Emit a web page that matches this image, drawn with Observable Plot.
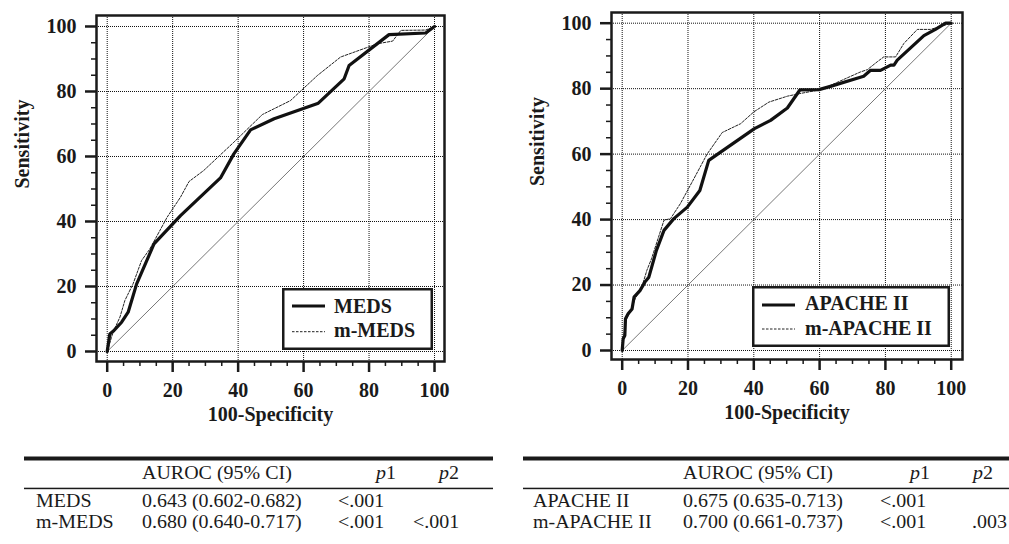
<!DOCTYPE html>
<html><head><meta charset="utf-8">
<script src="https://cdn.jsdelivr.net/npm/d3@7"></script>
<script src="https://cdn.jsdelivr.net/npm/@observablehq/plot@0.6"></script>
<style>
body{margin:0;background:#fff;}
#page{position:relative;width:1009px;height:544px;overflow:hidden;background:#fff;font-family:"Liberation Serif","Times New Roman",serif;color:#1a1a1a;}
.abs{position:absolute;}
</style></head><body><div id="page"></div>
<script>
// ---- data ----
const medsX  = [0, 0.8, 1.8, 4.4, 6.4, 9, 14.3, 22.4, 34.6, 38.7, 43.8, 51, 64.5, 72.4, 73.9, 86.1, 97.3, 100];
const medsY  = [0, 5.4, 6.2, 9, 12.1, 20.8, 33.1, 41.8, 53.4, 60.8, 68.2, 71.6, 76.4, 83.9, 88, 97.5, 98, 100];
const mmedsX = [0, 1.5, 2.5, 3.9, 5.4, 7.9, 10.5, 13, 18.3, 22.4, 25, 29.5, 38.7, 47.4, 56, 64.2, 71.3, 82.6, 87.2, 89.7, 97.3, 100];
const mmedsY = [0, 5, 7.5, 10.6, 15.7, 20.8, 28, 31.5, 41.3, 47.5, 52.3, 55.7, 64.4, 72.9, 77.2, 84.9, 90.6, 94.7, 95.5, 98.8, 98.9, 100];

const apacheX  = [0, 0.3, 0.8, 1, 1.8, 3, 3.6, 5.4, 6.9, 8.1, 10.4, 12.7, 15.7, 19.8, 23.6, 26.3, 29.9, 40.2, 45.1, 50.2, 54, 59.8, 63.3, 73.4, 75.5, 78.5, 81.6, 82.6, 83.6, 91.7, 95.2, 98.3, 100];
const apacheY  = [0, 3.6, 4.6, 9.7, 11.2, 12.7, 16.3, 18.3, 20.9, 22.4, 30.6, 36.7, 40.3, 43.8, 48.9, 58.1, 60.6, 67.8, 70.3, 74.1, 79.6, 79.7, 80.7, 83.8, 85.6, 85.6, 87.2, 87.2, 88.7, 96.2, 98.1, 100, 100];
const mapacheX = [0, 0.5, 1, 2.5, 4, 6, 7.5, 8.9, 12.7, 14.7, 17.7, 21.8, 25.8, 30.4, 36, 40, 44.6, 50.2, 54, 59.3, 63.3, 72.4, 74.5, 77.5, 79.5, 83.1, 85.6, 89.7, 93.7, 100];
const mapacheY = [0, 4, 9, 12, 16, 19.5, 24.5, 28, 39.8, 40.3, 44.9, 52.5, 60, 66.6, 69.3, 72.9, 75.9, 77.7, 78.5, 79.5, 81, 85.1, 85.8, 88.2, 89.7, 89.7, 93.8, 98.1, 98.1, 100];

const diagX = [0, 100];
const diagY = [0, 100];

const majorTicks = [0, 20, 40, 60, 80, 100];
const minorTicks = [5, 10, 15, 25, 30, 35, 45, 50, 55, 65, 70, 75, 85, 90, 95];

const xTitle = "100-Specificity";
const yTitle = "Sensitivity";

const legendLeft  = ["MEDS", "m-MEDS"];
const legendRight = ["APACHE II", "m-APACHE II"];

const tableHeader = ["AUROC (95% CI)", "p1", "p2"];
const tableLeftNames  = ["MEDS", "m-MEDS"];
const tableLeftAuroc  = ["0.643 (0.602-0.682)", "0.680 (0.640-0.717)"];
const tableLeftP1     = ["<.001", "<.001"];
const tableLeftP2     = ["", "<.001"];
const tableRightNames = ["APACHE II", "m-APACHE II"];
const tableRightAuroc = ["0.675 (0.635-0.713)", "0.700 (0.661-0.737)"];
const tableRightP1    = ["<.001", "<.001"];
const tableRightP2    = ["", ".003"];

// ---- helpers ----
const INK = "#1a1a1a";
const SERIF = '"Liberation Serif", "Times New Roman", serif';
const zip = (xs, ys) => xs.map((x, i) => ({x, y: ys[i]}));

function rocPlot(cfg) {
  const solid = zip(cfg.sx, cfg.sy);
  const dashed = zip(cfg.dx, cfg.dy);
  const diag = zip(diagX, diagY);
  return Plot.plot({
    width: cfg.width, height: 440,
    marginLeft: cfg.ml, marginRight: cfg.mr, marginTop: cfg.mt, marginBottom: cfg.mb,
    x: {domain: cfg.xd}, y: {domain: cfg.yd},
    style: {fontFamily: SERIF, fontSize: "20px", fontWeight: "bold", color: INK, background: "transparent"},
    marks: [
      Plot.ruleX(majorTicks, {x: d => d, stroke: "#111", strokeWidth: 1, strokeDasharray: "1,1"}),
      Plot.ruleY(majorTicks, {y: d => d, stroke: "#111", strokeWidth: 1, strokeDasharray: "1,1"}),
      Plot.line(diag, {x: "x", y: "y", stroke: "#555", strokeWidth: 0.8}),
      Plot.line(dashed, {x: "x", y: "y", stroke: "#222", strokeWidth: 1, strokeDasharray: "2.5,1.5"}),
      Plot.line(solid, {x: "x", y: "y", stroke: "#111", strokeWidth: 3.2, strokeLinejoin: "round"}),
      Plot.frame({stroke: INK, strokeWidth: 2.5}),
      Plot.axisX(minorTicks, {tickSize: 5, tickFormat: () => "", strokeWidth: 1.5, label: null}),
      Plot.axisX(majorTicks, {tickSize: 11, tickPadding: 10, strokeWidth: 2.5, label: null}),
      Plot.axisY(minorTicks, {tickSize: 5, tickFormat: () => "", strokeWidth: 1.5, label: null}),
      Plot.axisY(majorTicks, {tickSize: 11, tickPadding: 9, strokeWidth: 2.5, label: null}),
      Plot.text([xTitle], {text: d => d, frameAnchor: "bottom", dy: 59, fill: INK}),
      Plot.text([yTitle], {text: d => d, frameAnchor: "left", dx: -74, rotate: -90, fill: INK})
    ]
  });
}

const page = document.getElementById("page");
function place(node, left, top) {
  const w = document.createElement("div");
  w.className = "abs";
  w.style.left = left + "px"; w.style.top = top + "px";
  w.appendChild(node);
  page.appendChild(w);
  return w;
}

place(rocPlot({sx: medsX, sy: medsY, dx: mmedsX, dy: mmedsY, width: 500,
  ml: 96, mr: 56, mt: 15, mb: 79, xd: [-3.27, 103.05], yd: [-3.08, 103.38]}), 0, 0);
place(rocPlot({sx: apacheX, sy: apacheY, dx: mapacheX, dy: mapacheY, width: 509,
  ml: 111, mr: 47, mt: 12, mb: 81, xd: [-3.25, 103.43], yd: [-2.75, 103.27]}), 500, 0);

// ---- legends ----
function legend(labels, left, top, w, h, lx0, lx1, ly, ty, tx) {
  const svg = d3.create("svg").attr("width", w).attr("height", h)
    .style("position", "absolute").style("left", left + "px").style("top", top + "px")
    .style("font-family", SERIF).style("font-size", "20px").style("font-weight", "bold");
  svg.append("rect").attr("x", 1.25).attr("y", 1.25).attr("width", w - 2.5).attr("height", h - 2.5)
    .attr("fill", "#fff").attr("stroke", INK).attr("stroke-width", 2.5);
  svg.append("line").attr("x1", lx0).attr("x2", lx1).attr("y1", ly[0]).attr("y2", ly[0])
    .attr("stroke", "#111").attr("stroke-width", 3.2);
  svg.append("line").attr("x1", lx0).attr("x2", lx1).attr("y1", ly[1]).attr("y2", ly[1])
    .attr("stroke", "#222").attr("stroke-width", 1).attr("stroke-dasharray", "2.5,1.5");
  labels.forEach((t, i) => svg.append("text").attr("x", tx).attr("y", ty[i]).attr("fill", INK).text(t));
  page.appendChild(svg.node());
}
legend(legendLeft, 282, 288, 151, 62, 10, 43, [18, 43.7], [24.5, 49], 52);
legend(legendRight, 752, 286, 198, 61, 10, 43, [19, 43], [24, 49], 53);

// ---- tables ----
const SX = 1.08; // horizontal stretch of the reference's table type
const tsvg = d3.create("svg").attr("width", 1009).attr("height", 104)
  .style("position", "absolute").style("left", "0px").style("top", "440px")
  .style("font-family", SERIF).style("font-size", "18.5px");
const tg = tsvg.append("g").attr("transform", `scale(${SX},1)`);
function table(x0, x1, cols, names, auroc, p1, p2) {
  tsvg.append("rect").attr("x", x0).attr("y", 16.5).attr("width", x1 - x0).attr("height", 4).attr("fill", INK);
  tsvg.append("rect").attr("x", x0).attr("y", 47.7).attr("width", x1 - x0).attr("height", 1.5).attr("fill", INK);
  const hdr = [cols.auroc, cols.hp1, cols.hp2];
  tableHeader.forEach((h, i) => {
    const t = tg.append("text").attr("x", hdr[i] / SX).attr("y", 39).attr("fill", INK);
    if (i === 0) t.text(h);
    else { t.append("tspan").attr("font-style", "italic").text(h[0]); t.append("tspan").text(h.slice(1)); }
  });
  const rowsY = [67.5, 88.5];
  names.forEach((n, i) => {
    tg.append("text").attr("x", cols.name / SX).attr("y", rowsY[i]).attr("fill", INK).text(n);
    tg.append("text").attr("x", cols.auroc / SX).attr("y", rowsY[i]).attr("fill", INK).text(auroc[i]);
    tg.append("text").attr("x", cols.p1 / SX).attr("y", rowsY[i]).attr("fill", INK).text(p1[i]);
    if (p2[i]) tg.append("text").attr("x", cols.p2 / SX).attr("y", rowsY[i]).attr("fill", INK).text(p2[i]);
  });
}
table(24, 493, {name: 36, auroc: 142, p1: 338, p2: 413, hp1: 376, hp2: 439},
  tableLeftNames, tableLeftAuroc, tableLeftP1, tableLeftP2);
table(523, 1009, {name: 533, auroc: 683, p1: 880, p2: 972, hp1: 910, hp2: 973},
  tableRightNames, tableRightAuroc, tableRightP1, tableRightP2);
page.appendChild(tsvg.node());
</script>
</body></html>
